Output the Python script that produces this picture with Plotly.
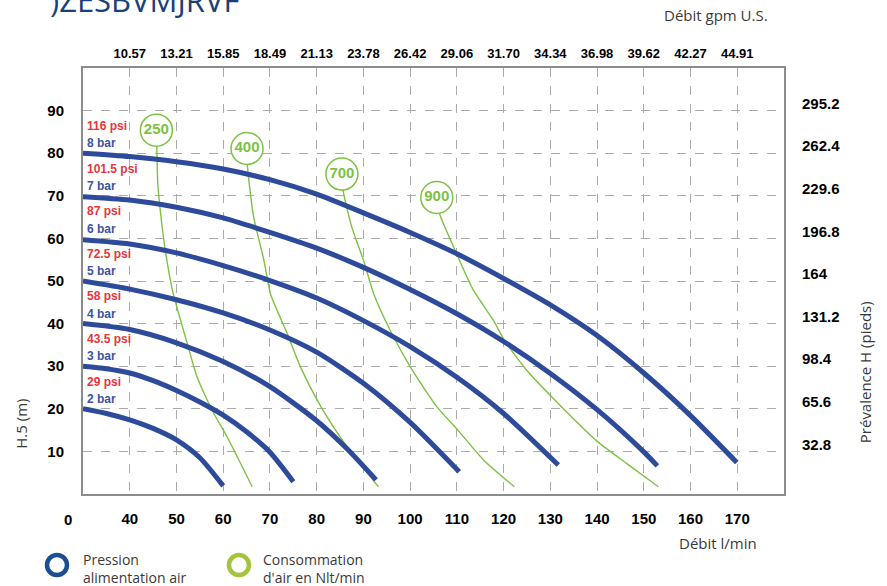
import plotly.graph_objects as go

# ---------------- data ----------------
flow_ticks = [40, 50, 60, 70, 80, 90, 100, 110, 120, 130, 140, 150, 160, 170]
gpm_labels = ["10.57", "13.21", "15.85", "18.49", "21.13", "23.78", "26.42",
              "29.06", "31.70", "34.34", "36.98", "39.62", "42.27", "44.91"]
head_ticks = [10, 20, 30, 40, 50, 60, 70, 80, 90]
feet_ticks = [32.8, 65.6, 98.4, 131.2, 164, 196.8, 229.6, 262.4, 295.2]
feet_labels = ["32.8", "65.6", "98.4", "131.2", "164", "196.8", "229.6", "262.4", "295.2"]

pressure_bar = [2, 3, 4, 5, 6, 7, 8]
bar_labels = ["2 bar", "3 bar", "4 bar", "5 bar", "6 bar", "7 bar", "8 bar"]
psi_labels = ["29 psi", "43.5 psi", "58 psi", "72.5 psi", "87 psi", "101.5 psi", "116 psi"]

# pressure curves (flow l/min, head m)
bar2_x = [30, 35, 40, 45, 50, 55, 60]
bar2_y = [20, 18.9, 17.4, 15.4, 12.7, 8.5, 1.9]
bar3_x = [30, 35, 40, 45, 50, 55, 60, 65, 70, 75]
bar3_y = [30, 29.4, 28.4, 26.6, 24.3, 21.6, 18.5, 14.6, 9.8, 2.9]
bar4_x = [30, 40, 50, 60, 70, 80, 86.5, 92.7]
bar4_y = [40, 38.6, 35.5, 31.1, 25.2, 17.2, 10.6, 3.3]
bar5_x = [30, 40, 50, 60, 70, 80, 90, 100, 110.5]
bar5_y = [50, 48.1, 45.6, 42.5, 38.5, 33.3, 26, 16.8, 5.2]
bar6_x = [30, 40, 50, 60, 70, 80, 90, 100, 110, 120, 131.7]
bar6_y = [59.7, 58.7, 56.6, 53.6, 50.1, 46, 40.7, 34.6, 27.4, 18.9, 6.8]
bar7_x = [30, 40, 50, 60, 70, 80, 90, 100, 110, 120, 130, 140, 150, 152.9]
bar7_y = [69.8, 69, 67.3, 64.8, 61.4, 57.7, 53.2, 48, 42.3, 35.8, 28.3, 19.8, 9.9, 6.6]
bar8_x = [30, 40, 50, 60, 70, 80, 90, 100, 110, 120, 130, 140, 150, 160, 169.9]
bar8_y = [80, 79.2, 78, 76.3, 73.8, 70.4, 66, 61.4, 56.4, 50.6, 44.4, 37.2, 28.4, 18.4, 7.4]

# air consumption curves (Nl/min)
air_labels = ["250", "400", "700", "900"]
air250_x = [45.7, 45.8, 46, 46.6, 47.6, 49.2, 52.3, 54.4, 58, 60.8, 66.2]
air250_y = [85.4, 81.1, 72.9, 65.9, 57.3, 47.5, 35.4, 27.5, 18.9, 13.5, 1.7]
air400_x = [65.1, 65.2, 66.5, 68.7, 70.2, 73.7, 76.5, 80.8, 86.5, 93.2]
air400_y = [81.1, 76.8, 65.1, 54.9, 46.7, 37.7, 29.9, 20.7, 11.1, 1.7]
air700_x = [85.4, 85.7, 87.5, 90, 92.3, 95.7, 100, 105.7, 110.2, 115.7, 122.3]
air700_y = [75.1, 71, 62.7, 54.9, 46.7, 38.5, 29.9, 20.5, 15, 8, 1.7]
air900_x = [105.7, 106.4, 109.3, 113.5, 117.8, 120.1, 124.9, 132, 140.1, 146.3, 153.1]
air900_y = [69.6, 65.5, 58, 47.9, 40.8, 36.2, 29.1, 20.9, 12.3, 7.2, 1.7]

# ---------------- styles ----------------
BLUE = "#2D4A9B"
GREEN = "#7DC242"
RED = "#E8353B"
LBL_BLUE = "#3B54A5"
ARIAL = "Liberation Sans, Arial, sans-serif"
HUM = "Open Sans, Noto Sans, sans-serif"

fig = go.Figure()

air_x = [air250_x, air400_x, air700_x, air900_x]
air_y = [air250_y, air400_y, air700_y, air900_y]
for ax, ay in zip(air_x, air_y):
    fig.add_trace(go.Scatter(x=ax, y=ay, mode="lines",
                             line=dict(color=GREEN, width=1.4, shape="spline", smoothing=0.6),
                             showlegend=False, hoverinfo="skip"))

bar_x = [bar2_x, bar3_x, bar4_x, bar5_x, bar6_x, bar7_x, bar8_x]
bar_y = [bar2_y, bar3_y, bar4_y, bar5_y, bar6_y, bar7_y, bar8_y]
for bx, by in zip(bar_x, bar_y):
    fig.add_trace(go.Scatter(x=bx, y=by, mode="lines",
                             line=dict(color=BLUE, width=5, shape="spline", smoothing=0.7),
                             showlegend=False, hoverinfo="skip"))

# consumption circles
fig.add_trace(go.Scatter(
    x=[a[0] for a in air_x], y=[a[0] for a in air_y], mode="markers+text",
    marker=dict(size=32, color="white", line=dict(color=GREEN, width=1.5)),
    text=air_labels, textposition="middle center",
    textfont=dict(family=ARIAL, size=15, color=GREEN, weight="bold"),
    showlegend=False, hoverinfo="skip"))

# dummy trace for secondary axes
fig.add_trace(go.Scatter(x=[None], y=[None], xaxis="x2", yaxis="y2",
                         showlegend=False, hoverinfo="skip"))

annotations = []
for p, bl, pl in zip(pressure_bar, bar_labels, psi_labels):
    annotations.append(dict(x=30.4, y=p * 10 + 2.3, text=bl, showarrow=False,
                            xanchor="left", yanchor="middle",
                            font=dict(family=ARIAL, size=12, color=LBL_BLUE, weight="bold")))
    annotations.append(dict(x=30.4, y=p * 10 + 6.4, text=pl, showarrow=False,
                            xanchor="left", yanchor="middle",
                            font=dict(family=ARIAL, size=12, color=RED, weight="bold")))

annotations += [
    dict(xref="paper", yref="paper", x=-0.0214, y=-0.0587, text="0", showarrow=False,
         xanchor="center", yanchor="middle", font=dict(family=ARIAL, size=15, color="black", weight="bold")),
    dict(xref="paper", yref="paper", x=0.906, y=-0.115, text="Débit l/min", showarrow=False,
         xanchor="center", yanchor="middle", font=dict(family=HUM, size=15, color="#3a3a3a")),
    dict(xref="paper", yref="paper", x=0.903, y=1.124, text="Débit gpm U.S.", showarrow=False,
         xanchor="center", yanchor="middle", font=dict(family=HUM, size=15, color="#3a3a3a")),
    dict(xref="paper", yref="paper", x=1.1156, y=0.286, text="Prévalence H (pieds)", showarrow=False,
         textangle=-90, xanchor="center", yanchor="middle", font=dict(family=HUM, size=15, color="#3a3a3a")),
    dict(xref="paper", yref="paper", x=-0.0884, y=0.165, text="H.5 (m)", showarrow=False,
         textangle=-90, xanchor="center", yanchor="middle", font=dict(family=HUM, size=15, color="#3a3a3a")),
    dict(xref="paper", yref="paper", x=-0.0505, y=1.160, text=")ZESBVMJRVF", showarrow=False,
         xanchor="left", yanchor="middle", font=dict(family=HUM, size=31, color="#1B3F7A")),
    dict(xref="paper", yref="paper", x=-0.0029, y=-0.176, text="Pression<br>alimentation air",
         showarrow=False, xanchor="left", yanchor="middle", align="left",
         font=dict(family=HUM, size=14, color="#3a3a3a")),
    dict(xref="paper", yref="paper", x=0.254, y=-0.176, text="Consommation<br>d'air en Nlt/min",
         showarrow=False, xanchor="left", yanchor="middle", align="left",
         font=dict(family=HUM, size=14, color="#3a3a3a")),
]

shapes = [
    dict(type="circle", xref="paper", yref="paper", xsizemode="pixel", ysizemode="pixel",
         xanchor=-0.0371, yanchor=-0.1667, x0=-10, x1=10, y0=-10, y1=10,
         line=dict(color="#1A4E8E", width=4.5)),
    dict(type="circle", xref="paper", yref="paper", xsizemode="pixel", ysizemode="pixel",
         xanchor=0.2225, yanchor=-0.1667, x0=-10, x1=10, y0=-10, y1=10,
         line=dict(color="#A6C43B", width=4.5)),
]

tick_font = dict(family=ARIAL, size=15, color="black", weight="bold")
fig.update_layout(
    width=887, height=586,
    margin=dict(l=83, r=103, t=68, b=92),
    paper_bgcolor="white", plot_bgcolor="white",
    showlegend=False,
    xaxis=dict(range=[30, 180], tickvals=flow_ticks, ticktext=[str(v) for v in flow_ticks],
               showgrid=True, gridcolor="#ababab", griddash="dash", gridwidth=1,
               showline=True, linecolor="#8c8c8c", linewidth=2, mirror=True,
               ticks="", zeroline=False, tickfont=tick_font, ticklabelstandoff=10),
    xaxis2=dict(range=[30, 180], overlaying="x", side="top", tickvals=flow_ticks,
                ticktext=gpm_labels, showgrid=False, ticks="", zeroline=False,
                tickfont=dict(family=ARIAL, size=13, color="black", weight="bold"),
                ticklabelstandoff=6),
    yaxis=dict(range=[0, 100], tickvals=head_ticks, ticktext=[str(v) for v in head_ticks],
               showgrid=True, gridcolor="#ababab", griddash="dash", gridwidth=1,
               showline=True, linecolor="#8c8c8c", linewidth=2, mirror=True,
               ticks="", zeroline=False, tickfont=tick_font, ticklabelstandoff=14),
    yaxis2=dict(range=[-5.4, 322.6], overlaying="y", side="right", tickvals=feet_ticks,
                ticktext=feet_labels, showgrid=False, ticks="", zeroline=False,
                tickfont=tick_font, ticklabelstandoff=17),
    annotations=annotations,
    shapes=shapes,
)

fig.write_html("out.html", config={"displayModeBar": False},
               post_script="document.body.style.margin='0';")
